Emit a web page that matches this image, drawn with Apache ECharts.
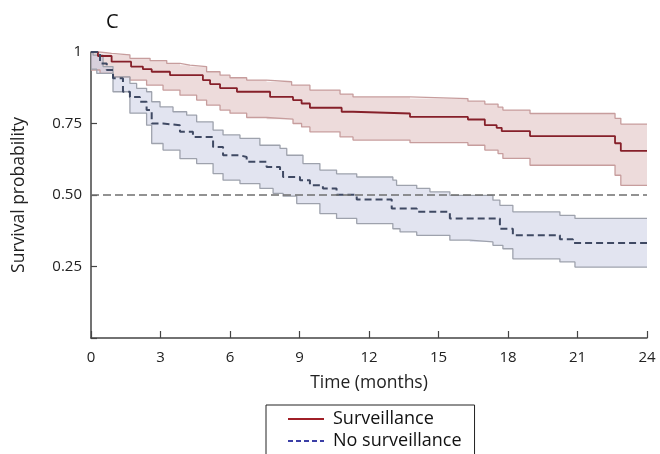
<!DOCTYPE html>
<html><head><meta charset="utf-8">
<script src="https://cdn.jsdelivr.net/npm/echarts@6/dist/echarts.min.js"></script>
<style>html,body{margin:0;padding:0;background:#fff}#c{width:660px;height:454px}</style>
</head><body><div id="c"></div>
<script>
// Time (months) ticks
const xTicks = [0, 3, 6, 9, 12, 15, 18, 21, 24];
const yTicks = [0.25, 0.5, 0.75, 1];
const seriesNames = ['Surveillance', 'No surveillance'];

// Surveillance: [month, survival]
const survMedian = [[0,1.0],[0.30,0.986],[0.89,0.966],[1.73,0.949],[2.24,0.940],[2.62,0.931],[3.41,0.919],[4.83,0.902],[5.14,0.888],[5.57,0.874],[6.30,0.861],[7.73,0.843],[8.72,0.832],[9.09,0.820],[9.45,0.805],[10.82,0.791],[11.31,0.785],[13.77,0.773],[16.27,0.764],[17.00,0.744],[17.51,0.735],[17.73,0.723],[18.95,0.706],[22.62,0.681],[22.87,0.654],[24,0.654]];
const survUpper = [[0,1.0],[0.39,0.995],[0.89,0.990],[1.68,0.978],[2.55,0.970],[3.27,0.960],[3.84,0.954],[4.27,0.949],[4.99,0.931],[5.57,0.919],[6.00,0.910],[6.72,0.902],[7.58,0.896],[8.66,0.884],[9.45,0.867],[10.75,0.853],[11.31,0.843],[13.77,0.837],[16.27,0.828],[17.00,0.818],[17.57,0.807],[17.78,0.797],[18.95,0.785],[22.62,0.768],[22.87,0.748],[24,0.748]];
const survLower = [[0,0.937],[0.39,0.925],[0.96,0.913],[1.68,0.902],[2.40,0.884],[3.11,0.867],[3.84,0.849],[4.56,0.832],[4.99,0.814],[5.57,0.797],[6.00,0.786],[6.72,0.771],[7.58,0.765],[8.72,0.750],[9.09,0.738],[9.45,0.721],[10.75,0.703],[11.31,0.692],[13.77,0.683],[16.27,0.674],[17.00,0.657],[17.57,0.645],[17.78,0.628],[18.95,0.604],[22.62,0.569],[22.87,0.534],[24,0.534]];

// No surveillance: [month, survival]
const noSurvMedian = [[0,1.0],[0.39,0.960],[0.68,0.937],[0.95,0.908],[1.38,0.861],[1.68,0.843],[2.11,0.826],[2.40,0.797],[2.62,0.750],[3.11,0.744],[3.84,0.721],[4.40,0.703],[5.27,0.668],[5.70,0.639],[6.43,0.633],[6.72,0.616],[7.58,0.598],[8.16,0.587],[8.29,0.563],[9.02,0.552],[9.45,0.534],[10.01,0.523],[10.60,0.501],[11.47,0.484],[12.98,0.453],[14.06,0.441],[15.49,0.418],[17.65,0.382],[18.21,0.359],[20.24,0.345],[20.80,0.332],[24,0.332]];
const noSurvUpper = [[0,1.0],[0.09,0.989],[0.52,0.949],[0.95,0.913],[1.68,0.890],[1.97,0.873],[2.40,0.861],[2.62,0.826],[2.98,0.808],[3.54,0.791],[4.13,0.779],[4.56,0.756],[5.27,0.727],[5.70,0.710],[6.43,0.698],[7.29,0.674],[8.16,0.663],[8.45,0.639],[9.15,0.610],[9.88,0.587],[10.60,0.574],[11.47,0.563],[13.03,0.552],[13.19,0.534],[14.06,0.523],[14.63,0.511],[15.49,0.499],[17.35,0.482],[17.65,0.464],[18.21,0.441],[20.24,0.429],[20.89,0.418],[24,0.418]];
const noSurvLower = [[0,0.940],[0.25,0.925],[0.95,0.861],[1.68,0.786],[2.40,0.744],[2.62,0.680],[3.11,0.657],[3.84,0.627],[4.56,0.610],[5.27,0.575],[5.70,0.552],[6.43,0.540],[7.29,0.523],[7.86,0.506],[8.29,0.496],[8.88,0.470],[9.88,0.435],[10.60,0.418],[11.47,0.400],[13.03,0.382],[13.34,0.371],[14.06,0.359],[15.49,0.342],[16.35,0.336],[17.35,0.324],[17.78,0.312],[18.21,0.277],[20.24,0.266],[20.89,0.248],[24,0.248]];

const FONT = 'Open Sans';

function stepPts(arr) {
  const out = [];
  for (let i = 0; i < arr.length; i++) {
    out.push(arr[i]);
    if (i < arr.length - 1) out.push([arr[i + 1][0], arr[i][1]]);
  }
  return out;
}
function bandSeries(upper, lower, fill) {
  const poly = stepPts(upper).concat(stepPts(lower).reverse());
  return {
    type: 'custom', silent: true, z: 1,
    data: [[0, 0]],
    renderItem: function (params, api) {
      return { type: 'polygon', shape: { points: poly.map(p => api.coord(p)) }, style: { fill: fill } };
    }
  };
}
function edge(data, color) {
  return { type: 'line', step: 'end', data: data, symbol: 'none', silent: true, z: 2,
    lineStyle: { color: color, width: 1.3 } };
}

const chart = echarts.init(document.getElementById('c'), null, { renderer: 'canvas' });
chart.setOption({
  animation: false,
  backgroundColor: '#fff',
  title: { text: 'C', left: 101, top: 7, textStyle: { fontFamily: FONT, fontSize: 20, fontWeight: 'normal', color: '#111' } },
  grid: { left: 91, right: 13, top: 52, bottom: 116 },
  legend: {
    orient: 'vertical', left: 266, top: 405, height: 80,
    borderColor: '#222', borderWidth: 1, borderRadius: 0,
    padding: [5, 13, 12, 21], itemGap: 4, itemWidth: 36, itemHeight: 14,
    textStyle: { fontFamily: FONT, fontSize: 18, color: '#111', lineHeight: 18, padding: [0, 0, 0, 4] },
    data: [
      { name: seriesNames[0], lineStyle: { color: '#a01f27', width: 2, type: 'solid' }, itemStyle: { color: 'rgba(0,0,0,0)', borderWidth: 0 } },
      { name: seriesNames[1], lineStyle: { color: '#3b3fa6', width: 2, type: [5, 3] }, itemStyle: { color: 'rgba(0,0,0,0)', borderWidth: 0 } }
    ]
  },
  xAxis: {
    type: 'value', min: 0, max: 24, interval: 3,
    name: 'Time (months)', nameLocation: 'middle', nameGap: 36,
    nameTextStyle: { fontFamily: FONT, fontSize: 17.5, color: '#222' },
    axisLine: { lineStyle: { color: '#444', width: 1.5 } },
    axisTick: { inside: true, length: 7, lineStyle: { color: '#444', width: 1.2 } },
    axisLabel: { fontFamily: FONT, fontSize: 15, color: '#222', margin: 12 },
    splitLine: { show: false }
  },
  yAxis: {
    type: 'value', min: 0, max: 1, interval: 0.25,
    name: 'Survival probability', nameLocation: 'middle', nameGap: 63, nameRotate: 90,
    nameTextStyle: { fontFamily: FONT, fontSize: 17.5, color: '#222' },
    axisLine: { show: true, lineStyle: { color: '#444', width: 1.5 } },
    axisTick: { show: true, inside: true, length: 6, lineStyle: { color: '#444', width: 1.2 } },
    axisLabel: { fontFamily: FONT, fontSize: 15, color: '#222', margin: 9,
      formatter: v => (v === 0 ? '' : (v === 1 ? '1' : v.toFixed(2))) },
    splitLine: { show: false }
  },
  series: [
    bandSeries(survUpper, survLower, 'rgba(214,176,176,0.45)'),
    bandSeries(noSurvUpper, noSurvLower, 'rgba(190,196,222,0.45)'),
    edge(survUpper, '#c79d9d'), edge(survLower, '#c79d9d'),
    edge(noSurvUpper, '#9ea2ad'), edge(noSurvLower, '#9ea2ad'),
    { name: seriesNames[0], type: 'line', step: 'end', data: survMedian, symbol: 'none', z: 3,
      lineStyle: { color: '#86202a', width: 1.8 } },
    { name: seriesNames[1], type: 'line', step: 'end', data: noSurvMedian, symbol: 'none', z: 3,
      lineStyle: { color: '#3f4963', width: 2, type: [7, 4] },
      markLine: { silent: true, symbol: 'none', label: { show: false }, z: 4,
        lineStyle: { color: '#6f6f6f', width: 1.5, type: [8, 4] },
        data: [{ yAxis: 0.5 }] } }
  ]
});
</script></body></html>
